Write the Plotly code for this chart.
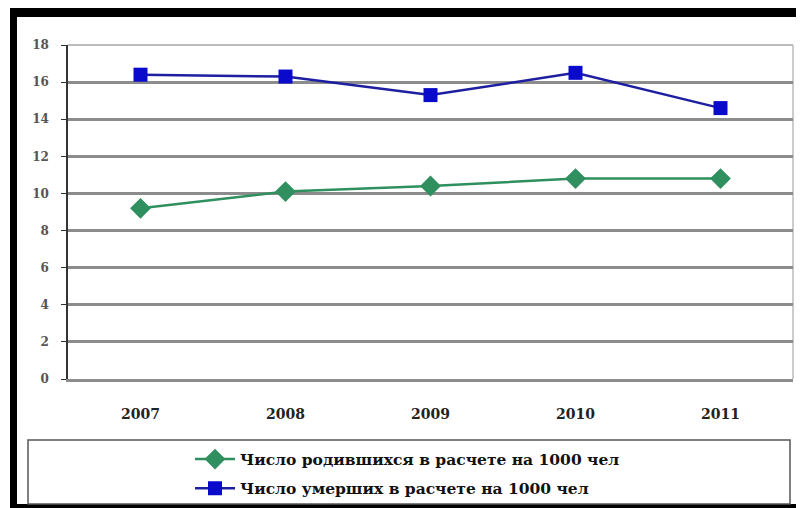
import plotly.graph_objects as go

years = ["2007", "2008", "2009", "2010", "2011"]
births = [9.2, 10.1, 10.4, 10.8, 10.8]
deaths = [16.4, 16.3, 15.3, 16.5, 14.6]
births_name = "Число родившихся в расчете на 1000 чел"
deaths_name = "Число умерших в расчете на 1000 чел"
y_ticks = [0, 2, 4, 6, 8, 10, 12, 14, 16, 18]

# page has an 8px body margin; figure sized to fit the window
OFF = 8
W, H = 804 - OFF, 508 - OFF
def px(x): return (x - OFF) / W
def py(y): return 1 - (y - OFF) / H

x0, x1 = 68, 793
ytop, ybot = 45, 379

fig = go.Figure()
xi = list(range(len(years)))
fig.add_trace(go.Scatter(
    x=xi, y=births, name=births_name, mode="lines+markers", legendgroup="a",
    line=dict(color="#2F8F5F", width=2.5),
    marker=dict(symbol="diamond", size=16, color="#2F8F5F"),
))
fig.add_trace(go.Scatter(
    x=xi, y=deaths, name=deaths_name, mode="lines+markers", legendgroup="b",
    line=dict(color="#1E1EA0", width=2.5),
    marker=dict(symbol="square", size=14, color="#0A0ACC"),
))

shapes = []
# plot-area top and right border (light)
shapes.append(dict(type="line", xref="paper", yref="paper", x0=px(x0), x1=px(x1), y0=py(ytop), y1=py(ytop),
                   line=dict(color="#BBBBBB", width=2), layer="below"))
shapes.append(dict(type="line", xref="paper", yref="paper", x0=px(x1), x1=px(x1), y0=py(ybot), y1=py(ytop),
                   line=dict(color="#BBBBBB", width=1.5), layer="below"))
# outer frame
shapes.append(dict(type="rect", xref="paper", yref="paper", x0=px(10), x1=1, y0=py(17), y1=1,
                   fillcolor="black", line=dict(width=0), layer="above"))
shapes.append(dict(type="rect", xref="paper", yref="paper", x0=px(10), x1=px(17), y0=0, y1=1,
                   fillcolor="black", line=dict(width=0), layer="above"))
shapes.append(dict(type="rect", xref="paper", yref="paper", x0=px(10), x1=1, y0=0, y1=py(504),
                   fillcolor="black", line=dict(width=0), layer="above"))
shapes.append(dict(type="line", xref="paper", yref="paper", x0=px(797), x1=px(797), y0=0, y1=py(17),
                   line=dict(color="#999999", width=1.5)))
# legend box
shapes.append(dict(type="rect", xref="paper", yref="paper", x0=px(28), x1=px(790), y0=py(504), y1=py(440),
                   line=dict(color="#555555", width=1.5), fillcolor="rgba(0,0,0,0)"))

fig.update_layout(
    width=W, height=H,
    margin=dict(l=0, r=0, t=0, b=0, autoexpand=False),
    paper_bgcolor="white", plot_bgcolor="white",
    shapes=shapes,
    showlegend=True,
    legend=dict(
        x=px(190), y=py(474), xanchor="left", yanchor="middle",
        font=dict(family="DejaVu Serif", size=15.5, color="#111111", weight="bold"),
        traceorder="grouped", tracegroupgap=6,
        bgcolor="rgba(0,0,0,0)", itemwidth=40,
    ),
    xaxis=dict(
        domain=[px(x0), px(x1)], range=[-0.5, 4.5],
        tickmode="array", tickvals=xi, ticktext=years,
        showgrid=False, zeroline=False,
        showline=True, linecolor="#8C8C8C", linewidth=2.5,
        ticks="", ticklabelstandoff=20,
        tickfont=dict(family="DejaVu Serif", size=14, color="#222222", weight="bold"),
    ),
    yaxis=dict(
        domain=[py(ybot), py(ytop)], range=[0, 18],
        tickmode="array", tickvals=y_ticks,
        showgrid=True, gridcolor="#8C8C8C", gridwidth=2.5,
        zeroline=False, showline=True, linecolor="#333333", linewidth=1.5,
        ticks="outside", ticklen=5, tickcolor="#333333", ticklabelstandoff=10,
        tickfont=dict(family="DejaVu Serif", size=12, color="#555555", weight="bold"),
    ),
)

fig.write_html("out.html")
